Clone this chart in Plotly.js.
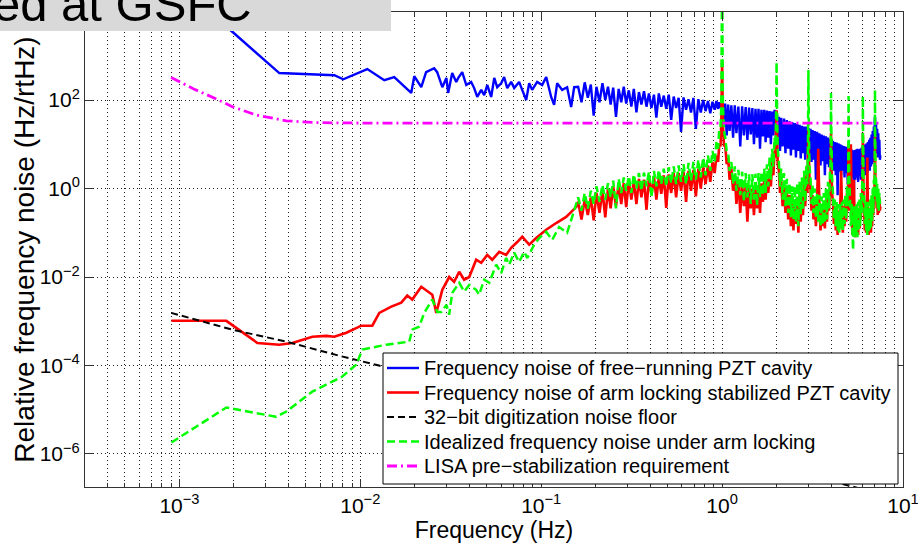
<!DOCTYPE html>
<html><head><meta charset="utf-8">
<script src="https://cdn.plot.ly/plotly-3.0.1.min.js"></script>
<style>html,body{margin:0;padding:0;background:#fff}#chart{width:918px;height:544px}</style>
</head><body><div id="chart"></div>
<script>
// ---------- data (frequencies in Hz, noise values as log10 of Hz/rtHz) ----------
const blueLoF = [0.0009,0.00194,0.003567,0.00718,0.00805,0.01093,0.01357,0.0154,0.01912,0.01987,0.02172,0.0231,0.0256,0.0266,0.0284,0.0299,0.0306,0.0322,0.0339,0.0348,0.0366,0.0385,0.0410,0.0426,0.0443,0.0466,0.0484,0.0503,0.0529,0.0550,0.0571,0.0601,0.0624,0.0649,0.0682,0.0709,0.0755,0.0785,0.0826,0.0858,0.0891,0.0950,0.1012,0.1066,0.1135,0.1179,0.1225,0.1306,0.1391,0.1464,0.1521];
const blueLoV = [4.74,3.56,2.61,2.56,2.47,2.70,2.45,2.52,2.16,2.54,2.29,2.63,2.72,2.63,2.29,2.50,2.16,2.61,2.41,2.50,2.63,2.34,2.41,2.27,2.07,2.23,2.11,2.34,2.07,2.50,2.29,2.38,2.52,2.27,2.41,2.27,2.41,2.23,2.00,2.38,2.23,2.41,2.34,2.52,2.07,1.89,2.38,2.23,2.29,1.84,2.29];

const redLoF = [0.000903,0.001817,0.002697,0.003567,0.00421,0.00543,0.00649,0.00718,0.00837,0.01013,0.01165,0.01273,0.01483,0.01684,0.01817,0.01937,0.02172,0.0250,0.0263,0.0284,0.0310,0.0330,0.0352,0.0375,0.0400,0.0437,0.0466,0.0503,0.0536,0.0586,0.0640,0.0682,0.0737,0.0785,0.0858,0.0938,0.1066,0.1210,0.1374,0.1560];
const redLoV = [-2.99,-2.99,-3.49,-3.53,-3.49,-3.35,-3.33,-3.35,-3.26,-3.10,-3.10,-2.81,-2.67,-2.58,-2.42,-2.51,-2.22,-2.40,-2.81,-2.29,-2.00,-2.11,-1.88,-2.06,-2.00,-1.61,-1.68,-1.50,-1.61,-1.43,-1.50,-1.34,-1.21,-1.09,-1.27,-1.12,-0.93,-0.78,-0.64,-0.42];

const greenLoF = [0.000903,0.001817,0.003434,0.0039,0.00543,0.00795,0.0095,0.01025,0.0139,0.01865,0.01937,0.02117,0.02257,0.02498,0.02662,0.02802,0.0299,0.0310,0.0322,0.0352,0.0375,0.0400,0.0437,0.0454,0.0484,0.0516,0.0564,0.0601,0.0640,0.0665,0.0709,0.0755,0.0805,0.0837,0.0915,0.0974,0.1066,0.1150,0.1257,0.1391,0.1483];
const greenLoV = [-5.74,-4.95,-5.16,-5.04,-4.59,-4.25,-3.98,-3.64,-3.53,-3.46,-3.19,-3.12,-2.81,-2.51,-2.79,-2.79,-2.63,-2.85,-2.36,-2.13,-2.33,-2.18,-2.29,-2.40,-2.06,-2.13,-1.72,-1.91,-1.57,-1.72,-1.45,-1.66,-1.43,-1.57,-1.27,-1.12,-0.98,-1.16,-0.87,-1.00,-0.64];

const freqHi = [0.16,0.167,0.174,0.181,0.188,0.195,0.202,0.21,0.218,0.226,0.234,0.242,0.25,0.259,0.268,0.277,0.286,0.295,0.305,0.315,0.325,0.336,0.347,0.358,0.37,0.382,0.394,0.407,0.42,0.433,0.447,0.461,0.476,0.491,0.507,0.523,0.54,0.557,0.575,0.593,0.612,0.632,0.652,0.673,0.694,0.716,0.739,0.762,0.786,0.81,0.835,0.86,0.885,0.91,0.93,0.95,0.965,0.98,0.99,1.0,
1.01,1.025,1.04,1.06,1.08,1.1,1.125,1.15,1.175,1.2,1.23,1.26,1.29,1.32,1.35,1.38,1.41,1.44,1.47,1.5,1.53,1.56,1.59,1.62,1.65,1.68,1.71,1.74,1.77,1.8,1.83,1.86,1.89,1.92,1.95,1.97,1.985,2.0,
2.015,2.03,2.06,2.09,2.12,2.16,2.2,2.24,2.28,2.32,2.36,2.4,2.44,2.48,2.52,2.56,2.6,2.64,2.68,2.72,2.76,2.8,2.84,2.88,2.92,2.96,2.98,3.0,
3.02,3.04,3.08,3.12,3.16,3.2,3.25,3.3,3.35,3.4,3.45,3.5,3.55,3.6,3.65,3.7,3.75,3.8,3.85,3.9,3.95,3.98,4.0,
4.02,4.05,4.1,4.15,4.2,4.25,4.3,4.35,4.4,4.45,4.5,4.55,4.6,4.65,4.7,4.75,4.8,4.85,4.9,4.95,4.98,5.0,
5.02,5.05,5.1,5.15,5.2,5.25,5.3,5.35,5.4,5.45,5.5,5.55,5.6,5.65,5.7,5.75,5.8,5.85,5.9,5.95,5.98,6.0,
6.02,6.05,6.1,6.15,6.2,6.25,6.3,6.35,6.4,6.45,6.5,6.55,6.6,6.65,6.7,6.75,6.8,6.85,6.9,6.95,6.98,7.0,
7.02,7.05,7.1,7.15,7.2,7.25,7.3,7.35,7.4,7.45,7.5];

const blueHiV = [2.30,1.95,2.40,2.05,2.35,1.65,2.30,1.95,2.38,2.00,2.30,1.90,2.28,1.62,2.25,1.95,2.30,1.92,2.22,1.85,2.25,1.72,2.18,1.90,2.20,1.85,2.15,1.82,2.12,1.60,2.15,1.85,2.10,1.80,2.12,1.55,2.08,1.82,2.05,1.28,2.06,1.78,2.02,1.72,2.05,1.35,2.02,1.72,2.00,1.75,1.98,1.70,1.96,1.78,1.98,1.80,1.95,1.82,1.95,1.88,
1.90,1.45,1.92,1.20,1.90,1.30,1.88,1.15,1.88,1.25,1.85,0.95,1.86,1.20,1.84,1.10,1.83,1.22,1.82,1.00,1.80,1.15,1.80,0.90,1.78,1.18,1.78,1.05,1.76,1.15,1.75,1.00,1.74,1.20,1.78,1.30,1.75,1.70,
1.65,1.00,1.62,0.85,1.60,0.95,1.58,0.80,1.55,0.90,1.52,0.75,1.50,0.88,1.48,0.70,1.46,0.85,1.44,0.68,1.42,0.80,1.40,0.65,1.40,0.78,1.38,1.30,
1.36,0.70,1.35,0.60,1.32,0.65,1.30,0.20,1.28,0.60,1.25,0.52,1.22,0.62,1.20,0.30,1.18,0.55,1.15,0.48,1.12,0.60,1.10,
1.10,0.45,1.08,0.40,1.05,0.30,1.04,-0.15,1.02,0.38,1.00,0.30,0.98,0.40,0.96,0.25,0.95,0.35,0.94,0.10,0.92,0.85,
0.88,0.30,0.90,0.20,0.88,0.25,0.86,-0.20,0.87,0.20,0.88,0.25,0.90,0.15,0.88,0.28,0.90,0.20,0.92,0.30,0.95,0.70,
0.95,0.35,0.98,0.30,1.00,0.40,1.02,0.35,1.05,0.45,1.10,0.40,1.15,0.50,1.22,0.55,1.30,0.60,1.40,0.75,1.55,1.62,
1.50,0.90,1.45,0.80,1.35,0.70,1.25,0.75,1.10,0.65,0.75];

const redHiV = [-0.30,-0.70,-0.25,-0.60,-0.20,-0.72,-0.10,-0.55,-0.05,-0.65,0.00,-0.45,0.05,-0.40,0.10,-0.35,0.12,-0.42,0.18,-0.25,0.15,-0.35,0.22,-0.20,0.20,-0.48,0.25,-0.15,0.28,-0.25,0.25,-0.12,0.30,-0.44,0.32,-0.10,0.35,-0.20,0.35,-0.05,0.38,-0.30,0.40,-0.05,0.42,-0.18,0.45,0.00,0.48,0.10,0.52,0.15,0.60,0.35,0.75,0.60,1.00,0.95,1.50,2.86,
1.45,0.95,1.00,0.55,0.70,0.20,0.45,-0.05,0.30,-0.35,0.20,-0.55,0.10,-0.40,0.05,-0.75,0.05,-0.45,0.00,-0.60,0.05,-0.45,0.08,-0.55,0.12,-0.30,0.20,-0.25,0.30,-0.10,0.45,0.05,0.60,0.30,0.85,0.70,1.20,1.77,
1.10,0.55,0.40,-0.10,0.20,-0.40,0.05,-0.55,-0.05,-0.70,-0.15,-0.85,-0.20,-0.95,-0.25,-0.80,-0.20,-1.00,-0.15,-0.75,-0.05,-0.60,0.10,-0.40,0.30,-0.10,0.60,1.32,
0.70,0.20,0.00,-0.50,-0.15,-0.70,-0.30,-0.85,-0.35,0.90,-0.40,-0.95,-0.40,-0.85,-0.30,-0.90,-0.25,-0.75,-0.10,-0.50,0.15,0.30,1.26,
0.60,-0.10,-0.30,-0.80,-0.40,-0.95,-0.45,-1.05,-0.50,-0.90,-0.40,0.40,-0.45,-1.00,-0.40,-0.85,-0.30,-0.75,-0.10,-0.50,0.20,1.03,
0.50,-0.20,-0.50,1.00,-0.55,-1.05,-0.60,0.20,-0.65,-1.10,-0.55,-1.00,-0.50,-1.05,-0.45,-0.90,-0.30,-0.70,-0.10,-0.40,0.30,1.26,
0.60,-0.10,-0.50,-0.95,-0.55,-1.00,-0.60,0.70,-0.60,-1.05,-0.55,-0.95,-0.50,-1.00,-0.40,-0.85,-0.25,-0.60,0.00,-0.30,0.40,1.20,
0.55,-0.10,0.10,-0.45,-0.05,-0.60,-0.15,-0.55,-0.20,-0.50,-0.40];

const greenHiV = [-0.20,-0.50,-0.10,-0.45,-0.05,-0.35,0.05,-0.30,0.08,-0.25,0.12,-0.20,0.18,-0.45,0.22,-0.10,0.25,-0.05,0.28,-0.10,0.32,0.00,0.35,-0.05,0.36,0.05,0.38,-0.20,0.40,0.05,0.42,0.10,0.45,0.05,0.48,0.12,0.50,0.10,0.52,0.15,0.55,0.10,0.58,0.18,0.60,0.20,0.65,0.25,0.70,0.30,0.75,0.40,0.85,0.60,1.05,0.90,1.35,1.40,1.90,5.00,
1.90,1.30,1.15,0.85,0.80,0.40,0.60,0.10,0.50,-0.05,0.42,-0.15,0.38,-0.30,0.35,-0.20,0.32,-0.35,0.32,-0.25,0.33,-0.38,0.35,-0.20,0.38,-0.15,0.45,-0.10,0.55,0.05,0.70,0.20,0.90,0.50,1.15,0.95,1.50,2.86,
1.60,0.90,0.60,0.05,0.45,-0.25,0.35,-0.40,0.22,-0.55,0.12,-0.65,0.05,-0.70,0.05,-0.75,0.12,-0.85,0.15,-0.60,0.25,-0.50,0.40,-0.30,0.55,0.10,0.90,2.68,
1.20,0.50,0.25,-0.35,0.10,-0.55,0.00,-0.65,-0.10,-0.75,-0.15,-0.85,-0.18,-0.80,-0.10,-0.78,0.00,-0.70,0.15,-0.45,0.40,0.60,2.16,
1.20,0.30,-0.10,-0.70,-0.25,-0.85,-0.30,-0.95,-0.35,-1.00,-0.35,-0.90,-0.30,-0.95,-0.25,-0.80,-0.15,-0.70,0.05,-0.40,0.40,2.09,
1.00,0.20,-0.25,-0.85,-0.35,-1.00,-1.39,-0.40,-1.10,-0.40,-1.05,-0.35,-1.10,-0.30,-0.95,-0.25,-0.85,-0.10,-0.55,0.15,0.45,2.09,
1.10,0.25,-0.25,-0.80,-0.30,-0.95,-0.35,-1.05,-0.30,-1.00,-0.30,-0.95,-0.25,-0.90,-0.15,-0.75,0.00,-0.55,0.20,-0.20,0.60,2.23,
1.20,0.30,0.20,-0.30,0.10,-0.45,0.00,-0.50,-0.10,-0.35,-0.20];

const digitF = [0.0009,0.00196,0.0039,0.00765,0.01267,0.1,1.0,7.5];
const digitV = [-2.81,-3.19,-3.46,-3.78,-4.00,-4.94,-5.98,-6.90];

const lisaF = [0.0009,0.0012,0.00161,0.00196,0.00266,0.0039,0.0056,0.01,7.45];
const lisaV = [2.51,2.25,2.02,1.85,1.66,1.53,1.49,1.48,1.48];

const xTickVals = [0.001,0.01,0.1,1,10];
const xTickText = ['10<sup>−3</sup>','10<sup>−2</sup>','10<sup>−1</sup>','10<sup>0</sup>','10<sup>1</sup>'];
const yTickVals = [1e-6,1e-4,1e-2,1,1e2];
const yTickText = ['10<sup>−6</sup>','10<sup>−4</sup>','10<sup>−2</sup>','10<sup>0</sup>','10<sup>2</sup>'];

const seriesNames = ['Frequency noise of free−running PZT cavity','Frequency noise of arm locking stabilized PZT cavity','32−bit digitization noise floor','Idealized frequency noise under arm locking','LISA pre−stabilization requirement'];

// ---------- build ----------
function check(a,b,n){ if(a.length!==b.length) throw new Error(n+': '+a.length+' vs '+b.length); }
check(blueLoF,blueLoV,'blueLo'); check(redLoF,redLoV,'redLo'); check(greenLoF,greenLoV,'greenLo');
check(freqHi,blueHiV,'blueHi'); check(freqHi,redHiV,'redHi'); check(freqHi,greenHiV,'greenHi');
check(digitF,digitV,'digit'); check(lisaF,lisaV,'lisa');
const pow10 = a => a.map(v => Math.pow(10, v));

const styles = [
  {color:'#0000ff', width:2.4, dash:'solid'},
  {color:'#ff0000', width:2.6, dash:'solid'},
  {color:'#000000', width:2.0, dash:'7px,4px'},
  {color:'#00ff00', width:2.5, dash:'8px,4px'},
  {color:'#ff00ff', width:2.8, dash:'10px,4px,2px,4px'}
];
const xs = [blueLoF.concat(freqHi), redLoF.concat(freqHi), digitF, greenLoF.concat(freqHi), lisaF];
const ys = [pow10(blueLoV.concat(blueHiV)), pow10(redLoV.concat(redHiV)), pow10(digitV), pow10(greenLoV.concat(greenHiV)), pow10(lisaV)];

const traces = xs.map((x,i) => ({
  type:'scatter', mode:'lines', x:x, y:ys[i], name:seriesNames[i],
  line:{color:styles[i].color, width:styles[i].width, dash:styles[i].dash, simplify:false},
  hoverinfo:'skip', showlegend:false
}));

// plot area in pixels: left 85, right 903, top 12, bottom 487
const PL=85, PW=818, PT=12, PH=475;
const px2x = p => (p-PL)/PW;
const px2y = p => 1-(p-PT)/PH;

const legendRows = [368, 392.5, 417, 441.5, 466];
const shapes = [
  {type:'rect', xref:'paper', yref:'paper', x0:px2x(0), x1:px2x(391), y0:px2y(31), y1:px2y(-2), fillcolor:'#d9d9d9', line:{width:0}, layer:'above'},
  {type:'rect', xref:'paper', yref:'paper', x0:px2x(383), x1:px2x(898), y0:px2y(484), y1:px2y(353), fillcolor:'#ffffff', line:{color:'#000', width:1}, layer:'above'}
];
const annotations = [
  {xref:'paper', yref:'paper', x:px2x(-9), y:px2y(33), xanchor:'left', yanchor:'bottom', text:'ed at GSFC', showarrow:false, font:{size:49, color:'#000'}}
];
legendRows.forEach((py,i) => {
  shapes.push({type:'line', xref:'paper', yref:'paper', x0:px2x(387), x1:px2x(419), y0:px2y(py), y1:px2y(py),
    line:{color:styles[i].color, width:styles[i].width, dash:styles[i].dash}, layer:'above'});
  annotations.push({xref:'paper', yref:'paper', x:px2x(422), y:px2y(py), xanchor:'left', yanchor:'middle',
    text:seriesNames[i], showarrow:false, font:{size:20, color:'#000'}});
});

const gridStyle = {showgrid:true, gridcolor:'#222', griddash:'1px,3px', gridwidth:1};
const layout = {
  width:918, height:544, margin:{l:PL, r:15, t:PT, b:57},
  paper_bgcolor:'#fff', plot_bgcolor:'#fff',
  font:{family:'Liberation Sans, Arial, Helvetica, sans-serif', color:'#000', size:21},
  showlegend:false,
  xaxis:Object.assign({type:'log', range:[-3.522,1], tickmode:'array', tickvals:xTickVals, ticktext:xTickText,
    ticks:'inside', ticklen:8, tickwidth:1, tickcolor:'#333', showline:true, linecolor:'#333', linewidth:1, mirror:'ticks',
    zeroline:false, tickfont:{size:21}, ticklabelstandoff:0, ticklabeloverflow:'allow', automargin:false,
    title:{text:'Frequency (Hz)', font:{size:23}, standoff:2},
    minor:Object.assign({dtick:'D1', ticks:'inside', ticklen:4, tickcolor:'#333'}, gridStyle)}, gridStyle),
  yaxis:Object.assign({type:'log', range:[-6.746,3.99], tickmode:'array', tickvals:yTickVals, ticktext:yTickText,
    ticks:'inside', ticklen:8, tickwidth:1, tickcolor:'#333', showline:true, linecolor:'#333', linewidth:1, mirror:'ticks',
    zeroline:false, tickfont:{size:21}, ticklabelstandoff:0, ticklabeloverflow:'allow', automargin:false,
    title:{text:'Relative frequency noise (Hz/rtHz)', font:{size:28}, standoff:0}}, gridStyle),
  shapes:shapes, annotations:annotations
};
Plotly.newPlot('chart', traces, layout, {displayModeBar:false, staticPlot:true}).then(gd => {
  // the reference places the y title closer to its tick labels than Plotly's minimum standoff allows
  const t = gd.querySelector('text.ytitle');
  if (t) t.setAttribute('transform', 'translate(4,0) ' + (t.getAttribute('transform') || ''));
});
</script></body></html>
